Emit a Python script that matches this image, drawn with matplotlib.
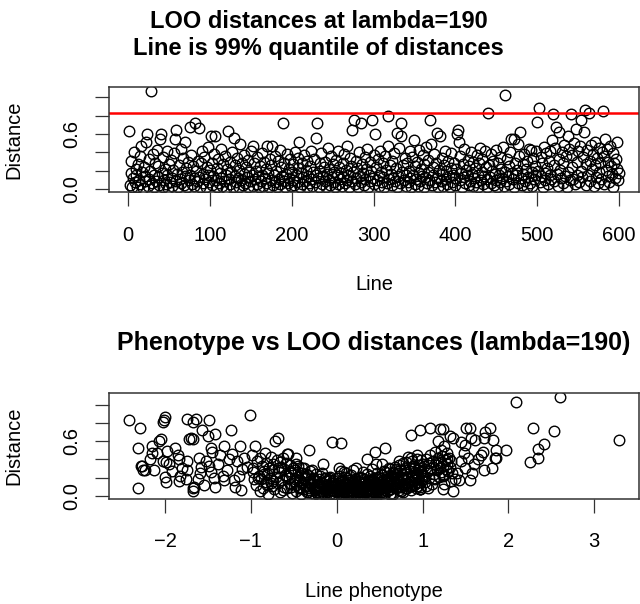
import matplotlib
matplotlib.use("Agg")
import matplotlib.pyplot as plt
import numpy as np

plt.rcParams['font.family'] = ['Liberation Sans', 'DejaVu Sans']

# LOO distance for each line (lines 1..600)
loo_dist = [
    0.63, 0.05, 0.18, 0.31, 0.02, 0.12, 0.40, 0.08, 0.22, 0.15, 0.03, 0.27, 0.10, 0.36, 0.06, 0.47, 0.19, 0.01, 0.24, 0.09,
    0.14, 0.51, 0.60, 0.04, 0.33, 0.11, 0.20, 1.07, 0.07, 0.38, 0.16, 0.02, 0.29, 0.09, 0.43, 0.13, 0.25, 0.05, 0.55, 0.60,
    0.18, 0.03, 0.35, 0.10, 0.22, 0.06, 0.41, 0.15, 0.01, 0.27, 0.08, 0.32, 0.12, 0.04, 0.21, 0.39, 0.55, 0.09, 0.64, 0.17,
    0.02, 0.26, 0.11, 0.44, 0.07, 0.19, 0.34, 0.05, 0.14, 0.51, 0.23, 0.03, 0.30, 0.10, 0.68, 0.16, 0.37, 0.06, 0.25, 0.12,
    0.04, 0.72, 0.20, 0.09, 0.31, 0.66, 0.13, 0.02, 0.28, 0.42, 0.07, 0.17, 0.35, 0.11, 0.03, 0.24, 0.15, 0.46, 0.08, 0.21,
    0.58, 0.05, 0.29, 0.14, 0.38, 0.58, 0.10, 0.02, 0.23, 0.33, 0.07, 0.18, 0.44, 0.12, 0.04, 0.27, 0.09, 0.36, 0.16, 0.01,
    0.22, 0.63, 0.11, 0.30, 0.06, 0.19, 0.40, 0.03, 0.56, 0.14, 0.26, 0.08, 0.34, 0.12, 0.02, 0.21, 0.49, 0.10, 0.29, 0.05,
    0.17, 0.37, 0.07, 0.24, 0.13, 0.03, 0.32, 0.19, 0.09, 0.41, 0.15, 0.47, 0.04, 0.28, 0.11, 0.20, 0.06, 0.35, 0.13, 0.02,
    0.25, 0.09, 0.39, 0.16, 0.04, 0.30, 0.12, 0.22, 0.07, 0.47, 0.18, 0.02, 0.33, 0.10, 0.26, 0.47, 0.05, 0.15, 0.36, 0.08,
    0.20, 0.03, 0.31, 0.11, 0.43, 0.06, 0.24, 0.14, 0.72, 0.09, 0.28, 0.02, 0.17, 0.38, 0.07, 0.22, 0.12, 0.33, 0.04, 0.19,
    0.10, 0.27, 0.05, 0.40, 0.15, 0.08, 0.23, 0.34, 0.51, 0.02, 0.18, 0.29, 0.06, 0.13, 0.37, 0.09, 0.21, 0.03, 0.31, 0.14,
    0.07, 0.25, 0.42, 0.11, 0.04, 0.19, 0.33, 0.08, 0.16, 0.56, 0.72, 0.12, 0.02, 0.28, 0.20, 0.39, 0.06, 0.14, 0.24, 0.09,
    0.30, 0.03, 0.17, 0.45, 0.10, 0.22, 0.05, 0.36, 0.13, 0.27, 0.08, 0.19, 0.02, 0.32, 0.15, 0.41, 0.06, 0.24, 0.11, 0.18,
    0.04, 0.29, 0.13, 0.38, 0.07, 0.21, 0.47, 0.10, 0.16, 0.03, 0.34, 0.25, 0.09, 0.64, 0.19, 0.75, 0.06, 0.31, 0.12, 0.23,
    0.02, 0.40, 0.14, 0.72, 0.08, 0.27, 0.18, 0.05, 0.35, 0.11, 0.22, 0.44, 0.03, 0.16, 0.30, 0.09, 0.20, 0.75, 0.12, 0.37,
    0.06, 0.60, 0.24, 0.10, 0.33, 0.15, 0.04, 0.42, 0.19, 0.08, 0.28, 0.13, 0.02, 0.36, 0.21, 0.07, 0.47, 0.80, 0.11, 0.26,
    0.17, 0.05, 0.31, 0.12, 0.39, 0.09, 0.23, 0.03, 0.61, 0.14, 0.45, 0.07, 0.58, 0.72, 0.19, 0.26, 0.10, 0.34, 0.04, 0.15,
    0.28, 0.08, 0.20, 0.41, 0.12, 0.02, 0.35, 0.16, 0.53, 0.06, 0.25, 0.11, 0.30, 0.04, 0.43, 0.18, 0.09, 0.22, 0.14, 0.37,
    0.03, 0.27, 0.13, 0.46, 0.07, 0.19, 0.32, 0.10, 0.75, 0.49, 0.05, 0.24, 0.15, 0.38, 0.08, 0.29, 0.12, 0.61, 0.02, 0.21,
    0.58, 0.09, 0.34, 0.17, 0.04, 0.26, 0.42, 0.11, 0.20, 0.06, 0.31, 0.14, 0.03, 0.39, 0.23, 0.08, 0.16, 0.28, 0.05, 0.12,
    0.22, 0.60, 0.64, 0.51, 0.10, 0.36, 0.18, 0.03, 0.27, 0.13, 0.44, 0.07, 0.21, 0.15, 0.32, 0.05, 0.25, 0.09, 0.40, 0.17,
    0.04, 0.30, 0.12, 0.23, 0.08, 0.37, 0.16, 0.02, 0.28, 0.45, 0.10, 0.19, 0.33, 0.06, 0.14, 0.41, 0.24, 0.11, 0.03, 0.83,
    0.26, 0.13, 0.38, 0.07, 0.20, 0.31, 0.05, 0.17, 0.43, 0.10, 0.02, 0.28, 0.15, 0.35, 0.08, 0.22, 0.12, 0.46, 0.04, 0.19,
    1.02, 0.09, 0.33, 0.14, 0.25, 0.06, 0.40, 0.55, 0.18, 0.11, 0.55, 0.03, 0.29, 0.16, 0.21, 0.07, 0.49, 0.36, 0.62, 0.12,
    0.05, 0.27, 0.17, 0.38, 0.09, 0.22, 0.02, 0.31, 0.13, 0.44, 0.07, 0.43, 0.19, 0.04, 0.34, 0.11, 0.25, 0.15, 0.41, 0.73,
    0.20, 0.88, 0.08, 0.35, 0.14, 0.28, 0.03, 0.46, 0.18, 0.10, 0.39, 0.23, 0.06, 0.31, 0.15, 0.42, 0.11, 0.53, 0.82, 0.26,
    0.09, 0.45, 0.67, 0.17, 0.04, 0.33, 0.62, 0.21, 0.12, 0.40, 0.07, 0.28, 0.48, 0.14, 0.36, 0.02, 0.58, 0.19, 0.44, 0.10,
    0.82, 0.24, 0.37, 0.11, 0.50, 0.06, 0.65, 0.30, 0.15, 0.42, 0.08, 0.47, 0.20, 0.75, 0.13, 0.35, 0.62, 0.86, 0.05, 0.27,
    0.43, 0.16, 0.83, 0.31, 0.09, 0.48, 0.22, 0.38, 0.04, 0.26, 0.51, 0.13, 0.34, 0.07, 0.45, 0.19, 0.29, 0.11, 0.40, 0.85,
    0.06, 0.36, 0.55, 0.21, 0.44, 0.14, 0.30, 0.08, 0.47, 0.25, 0.17, 0.39, 0.03, 0.28, 0.12, 0.33, 0.51, 0.22, 0.10, 0.18,
]

# phenotype vs distance
pheno = [
    # left tail
    -2.42, -2.29, -2.32, -2.32, -2.27, -2.23, -2.13, -2.15, -2.17, -2.07, -2.05, -2.01, -2.00, -2.02, -2.03, -1.99, -2.00, -1.99, -1.92, -1.88,
    -1.85, -1.84, -1.75, -1.67, -1.64, -1.72, -1.70, -1.67, -1.68, -1.67, -1.66, -1.75, -1.74, -1.76, -1.83, -1.84, -1.57, -1.49, -1.50, -1.42,
    -1.46, -1.45, -1.60, -1.58, -1.59, -1.62, -1.52, -1.49, -1.46, -1.43, -1.42, -1.33, -1.31, -1.23, -1.31, -1.36, -1.20, -1.18, -1.12, -1.22,
    -1.16, -1.13, -1.01, -1.10, -1.05, -1.98, -1.95, -2.10, -1.80, -1.55, -1.38, -1.28, -1.25, -1.14, -1.08, -2.28, -2.26, -2.15,
    # -1 .. -0.5
    -0.99, -0.97, -0.95, -0.94, -0.93, -0.91, -0.90, -0.89, -0.88, -0.87, -0.86, -0.85, -0.84, -0.83, -0.82, -0.81, -0.80, -0.79, -0.78, -0.77,
    -0.76, -0.75, -0.74, -0.73, -0.72, -0.71, -0.70, -0.69, -0.68, -0.67, -0.66, -0.65, -0.64, -0.63, -0.62, -0.61, -0.60, -0.59, -0.58, -0.57,
    -0.56, -0.55, -0.54, -0.53, -0.52, -0.51, -0.50, -0.98, -0.92, -0.81, -0.74, -0.69, -0.63, -0.58, -0.53, -0.96, -0.85, -0.77, -0.66, -0.55,
    # -0.5 .. 0
    -0.49, -0.48, -0.47, -0.46, -0.45, -0.44, -0.43, -0.42, -0.41, -0.40, -0.39, -0.38, -0.37, -0.36, -0.35, -0.34, -0.33, -0.32, -0.31, -0.30,
    -0.29, -0.28, -0.27, -0.26, -0.25, -0.24, -0.23, -0.22, -0.21, -0.20, -0.19, -0.18, -0.17, -0.16, -0.15, -0.14, -0.13, -0.12, -0.11, -0.10,
    -0.09, -0.08, -0.07, -0.06, -0.05, -0.04, -0.03, -0.02, -0.01, 0.00, -0.485, -0.455, -0.425, -0.395, -0.365, -0.335, -0.305, -0.275, -0.245, -0.215,
    -0.185, -0.155, -0.125, -0.095, -0.065, -0.035, -0.005, -0.47, -0.41, -0.36, -0.29, -0.23, -0.17, -0.12, -0.07, -0.03, -0.44, -0.33, -0.26, -0.19,
    -0.14, -0.08, -0.02, -0.38, -0.21, -0.11, -0.05, -0.43, -0.27, -0.09,
    # 0 .. 0.5
    0.01, 0.02, 0.03, 0.04, 0.05, 0.06, 0.07, 0.08, 0.09, 0.10, 0.11, 0.12, 0.13, 0.14, 0.15, 0.16, 0.17, 0.18, 0.19, 0.20,
    0.21, 0.22, 0.23, 0.24, 0.25, 0.26, 0.27, 0.28, 0.29, 0.30, 0.31, 0.32, 0.33, 0.34, 0.35, 0.36, 0.37, 0.38, 0.39, 0.40,
    0.41, 0.42, 0.43, 0.44, 0.45, 0.46, 0.47, 0.48, 0.49, 0.50,
    0.005, 0.015, 0.025, 0.035, 0.045, 0.055, 0.065, 0.075, 0.085, 0.095, 0.105, 0.115, 0.125, 0.135, 0.145, 0.155, 0.165, 0.175, 0.185, 0.195,
    0.205, 0.215, 0.225, 0.235, 0.245, 0.255, 0.265, 0.275, 0.285, 0.295, 0.305, 0.315, 0.325, 0.335, 0.345, 0.355, 0.365, 0.375, 0.385, 0.395,
    0.405, 0.415, 0.425, 0.435, 0.445, 0.455, 0.465, 0.475, 0.485, 0.495,
    0.03, 0.07, 0.11, 0.14, 0.18, 0.22, 0.26, 0.29, 0.33, 0.37, 0.41, 0.44, 0.48, 0.02, 0.09, 0.16, 0.24, 0.31, 0.38, 0.46,
    0.06, 0.13, 0.20, 0.27, 0.35, 0.42, 0.12, 0.25, 0.34, 0.47,
    # 0.5 .. 1
    0.51, 0.52, 0.53, 0.54, 0.55, 0.56, 0.57, 0.58, 0.59, 0.60, 0.61, 0.62, 0.63, 0.64, 0.65, 0.66, 0.67, 0.68, 0.69, 0.70,
    0.71, 0.72, 0.73, 0.74, 0.75, 0.76, 0.77, 0.78, 0.79, 0.80, 0.81, 0.82, 0.83, 0.84, 0.85, 0.86, 0.87, 0.88, 0.89, 0.90,
    0.91, 0.92, 0.93, 0.94, 0.95, 0.96, 0.97, 0.98, 0.99, 1.00,
    0.505, 0.515, 0.525, 0.535, 0.545, 0.555, 0.565, 0.575, 0.585, 0.595, 0.605, 0.615, 0.625, 0.635, 0.645, 0.655, 0.665, 0.675, 0.685, 0.695,
    0.705, 0.715, 0.725, 0.735, 0.745, 0.755, 0.765, 0.775, 0.785, 0.795, 0.805, 0.815, 0.825, 0.835, 0.845, 0.855, 0.865, 0.875, 0.885, 0.895,
    0.905, 0.915, 0.925, 0.935, 0.945, 0.955, 0.965, 0.975, 0.985, 0.995,
    0.53, 0.58, 0.62, 0.66, 0.71, 0.75, 0.79, 0.83, 0.87, 0.91, 0.95, 0.99, 0.56, 0.64, 0.73, 0.81, 0.89, 0.93, 0.97, 0.68,
    # 1 .. 1.35
    1.01, 1.02, 1.03, 1.04, 1.05, 1.06, 1.07, 1.08, 1.09, 1.10, 1.11, 1.12, 1.13, 1.14, 1.15, 1.16, 1.17, 1.18, 1.19, 1.20,
    1.21, 1.22, 1.23, 1.24, 1.25, 1.26, 1.27, 1.28, 1.29, 1.30, 1.31, 1.32, 1.33, 1.34, 1.035, 1.085, 1.135, 1.185, 1.235, 1.285,
    # right tail and scattered high points
    0.86, 0.97, 1.09, 1.20, 1.32, 1.18, 1.25, 1.22, 1.45, 1.25, 1.38, 1.24, 0.97,
    2.09, 2.60, 3.29, 2.29, 2.53, 2.41, 2.35, 2.34, 2.25, 1.97, 1.82, 1.84, 1.81, 1.79, 1.73, 1.72, 1.55, 1.61,
    1.36, 1.24, 1.49, 1.53, 1.70, 1.68, 1.72, 1.55, 1.43, 1.36, 1.33, 1.60, 1.65, 1.50, 1.45, 1.40, 1.58, 1.48,
    1.85, 1.85, 1.51, 1.56,
    -0.05, 0.05, -0.32, -0.58, -0.48, -0.16, 0.44, 0.56, 0.35,
]

pheno_dist = [
    # left tail
    0.83, 0.74, 0.53, 0.08, 0.33, 0.28, 0.28, 0.55, 0.40, 0.60, 0.62, 0.83, 0.87, 0.81, 0.38, 0.37, 0.21, 0.15, 0.27, 0.52,
    0.45, 0.40, 0.84, 0.81, 0.84, 0.62, 0.64, 0.62, 0.08, 0.05, 0.10, 0.38, 0.28, 0.18, 0.22, 0.16, 0.72, 0.83, 0.66, 0.68,
    0.53, 0.48, 0.42, 0.32, 0.25, 0.18, 0.38, 0.33, 0.26, 0.19, 0.10, 0.22, 0.17, 0.72, 0.55, 0.45, 0.17, 0.10, 0.06, 0.46,
    0.38, 0.55, 0.89, 0.29, 0.32, 0.49, 0.35, 0.47, 0.30, 0.12, 0.35, 0.28, 0.40, 0.22, 0.42, 0.33, 0.28, 0.47,
    # -1 .. -0.5
    0.45, 0.30, 0.55, 0.12, 0.38, 0.22, 0.05, 0.41, 0.18, 0.33, 0.09, 0.27, 0.47, 0.15, 0.36, 0.24, 0.02, 0.31, 0.19, 0.43,
    0.11, 0.28, 0.35, 0.07, 0.60, 0.21, 0.39, 0.14, 0.64, 0.26, 0.04, 0.32, 0.17, 0.42, 0.10, 0.29, 0.23, 0.36, 0.08, 0.46,
    0.20, 0.13, 0.34, 0.25, 0.03, 0.30, 0.16, 0.26, 0.20, 0.12, 0.16, 0.31, 0.06, 0.22, 0.10, 0.18, 0.24, 0.14, 0.37, 0.27,
    # -0.5 .. 0
    0.28, 0.12, 0.05, 0.21, 0.33, 0.09, 0.17, 0.02, 0.25, 0.14, 0.07, 0.30, 0.19, 0.11, 0.04, 0.23, 0.15, 0.08, 0.27, 0.13,
    0.03, 0.20, 0.10, 0.16, 0.06, 0.24, 0.12, 0.01, 0.18, 0.09, 0.22, 0.05, 0.14, 0.11, 0.02, 0.19, 0.07, 0.16, 0.04, 0.12,
    0.09, 0.21, 0.03, 0.14, 0.06, 0.17, 0.10, 0.02, 0.13, 0.08, 0.18, 0.26, 0.08, 0.15, 0.22, 0.06, 0.13, 0.18, 0.04, 0.10,
    0.15, 0.03, 0.09, 0.17, 0.11, 0.05, 0.07, 0.35, 0.31, 0.24, 0.28, 0.16, 0.25, 0.20, 0.14, 0.11, 0.10, 0.04, 0.07, 0.01,
    0.05, 0.02, 0.06, 0.12, 0.03, 0.08, 0.01, 0.15, 0.09, 0.20,
    # 0 .. 0.5
    0.14, 0.05, 0.22, 0.09, 0.02, 0.17, 0.11, 0.26, 0.04, 0.13, 0.07, 0.19, 0.01, 0.10, 0.15, 0.06, 0.23, 0.03, 0.12, 0.08,
    0.18, 0.02, 0.11, 0.05, 0.16, 0.09, 0.21, 0.04, 0.13, 0.07, 0.01, 0.10, 0.15, 0.06, 0.24, 0.03, 0.12, 0.08, 0.17, 0.02,
    0.11, 0.05, 0.19, 0.09, 0.14, 0.04, 0.25, 0.07, 0.12, 0.03,
    0.08, 0.19, 0.03, 0.12, 0.27, 0.06, 0.15, 0.01, 0.10, 0.21, 0.04, 0.13, 0.08, 0.17, 0.02, 0.11, 0.06, 0.14, 0.28, 0.09,
    0.03, 0.16, 0.07, 0.12, 0.01, 0.20, 0.05, 0.10, 0.15, 0.02, 0.08, 0.18, 0.04, 0.11, 0.06, 0.13, 0.01, 0.09, 0.22, 0.05,
    0.16, 0.03, 0.10, 0.07, 0.13, 0.02, 0.18, 0.08, 0.21, 0.11,
    0.30, 0.04, 0.25, 0.10, 0.02, 0.31, 0.07, 0.20, 0.05, 0.15, 0.29, 0.09, 0.03, 0.06, 0.12, 0.01, 0.08, 0.26, 0.13, 0.35,
    0.11, 0.06, 0.14, 0.04, 0.09, 0.17, 0.02, 0.12, 0.07, 0.05,
    # 0.5 .. 1
    0.08, 0.20, 0.13, 0.03, 0.27, 0.10, 0.17, 0.05, 0.22, 0.14, 0.31, 0.07, 0.19, 0.11, 0.25, 0.02, 0.16, 0.09, 0.29, 0.13,
    0.21, 0.06, 0.34, 0.15, 0.10, 0.24, 0.04, 0.18, 0.28, 0.12, 0.37, 0.08, 0.20, 0.15, 0.30, 0.06, 0.23, 0.11, 0.33, 0.17,
    0.26, 0.09, 0.40, 0.14, 0.21, 0.31, 0.07, 0.27, 0.19, 0.35,
    0.15, 0.04, 0.23, 0.11, 0.18, 0.01, 0.26, 0.09, 0.14, 0.20, 0.06, 0.29, 0.12, 0.17, 0.03, 0.22, 0.13, 0.32, 0.08, 0.19,
    0.25, 0.10, 0.15, 0.28, 0.05, 0.21, 0.13, 0.36, 0.18, 0.09, 0.24, 0.14, 0.43, 0.20, 0.11, 0.27, 0.16, 0.38, 0.22, 0.12,
    0.30, 0.19, 0.24, 0.45, 0.15, 0.34, 0.26, 0.10, 0.39, 0.23,
    0.35, 0.12, 0.02, 0.26, 0.17, 0.05, 0.30, 0.14, 0.42, 0.22, 0.28, 0.17, 0.06, 0.19, 0.38, 0.09, 0.33, 0.11, 0.07, 0.24,
    # 1 .. 1.35
    0.22, 0.33, 0.15, 0.40, 0.27, 0.09, 0.36, 0.20, 0.45, 0.30, 0.13, 0.38, 0.24, 0.48, 0.18, 0.34, 0.28, 0.42, 0.21, 0.31,
    0.37, 0.26, 0.44, 0.33, 0.23, 0.39, 0.29, 0.35, 0.47, 0.27, 0.41, 0.32, 0.38, 0.25, 0.11, 0.30, 0.19, 0.36, 0.22, 0.40,
    # right tail and scattered high points
    0.67, 0.72, 0.74, 0.73, 0.66, 0.60, 0.55, 0.50, 0.59, 0.13, 0.18, 0.07, 0.07,
    1.03, 1.09, 0.61, 0.74, 0.71, 0.57, 0.51, 0.42, 0.37, 0.50, 0.61, 0.41, 0.31, 0.75, 0.70, 0.64, 0.75, 0.61,
    0.64, 0.73, 0.56, 0.42, 0.48, 0.45, 0.28, 0.17, 0.17, 0.05, 0.16, 0.35, 0.40, 0.30, 0.38, 0.25, 0.25, 0.47,
    0.50, 0.41, 0.75, 0.63,
    0.59, 0.58, 0.50, 0.46, 0.42, 0.35, 0.48, 0.53, 0.40,
]

lines = np.arange(1, len(loo_dist) + 1)
cutoff = np.quantile(loo_dist, 0.99)

fig = plt.figure(figsize=(6.4, 6.04), dpi=100)
ax1 = fig.add_axes([0.171, 0.6816, 0.827, 0.1749])
ax2 = fig.add_axes([0.171, 0.1743, 0.827, 0.1755])

circle = dict(ls='none', marker='o', ms=7.6, mfc='none', mec='black', mew=1.0)

ax1.plot(lines, loo_dist, **circle)
ax1.axhline(cutoff, color='#ff0000', lw=1.8)
ax2.plot(pheno, pheno_dist, **circle)

for ax in (ax1, ax2):
    ax.margins(x=0.04, y=0.04)
    ax.set_yticks([0.0, 0.2, 0.4, 0.6, 0.8, 1.0])
    ax.set_yticklabels(['0.0', '', '', '0.6', '', ''], rotation=90, va='center')
    ax.tick_params(axis='both', length=10, width=0.9, color='#333333', labelsize=14.5)
    ax.tick_params(axis='x', pad=14)
    ax.tick_params(axis='y', pad=10)
    for s in ax.spines.values():
        s.set_linewidth(1.1)
        s.set_color('#333333')
    ax.set_ylabel('Distance', fontsize=14.5, labelpad=28)

ax1.set_xticks([0, 100, 200, 300, 400, 500, 600])
ax2.set_xticks([-2, -1, 0, 1, 2, 3])
ax1.set_xlabel('Line', fontsize=14.5, labelpad=22)
ax2.set_xlabel('Line phenotype', fontsize=14.5, labelpad=22)

ax1.set_title('LOO distances at lambda=190\nLine is 99% quantile of distances',
              fontsize=17, fontweight='bold', pad=23, linespacing=1.2, x=0.395)
ax2.set_title('Phenotype vs LOO distances (lambda=190)',
              fontsize=18, fontweight='bold', pad=31)

fig.savefig('out.png', dpi=100)
